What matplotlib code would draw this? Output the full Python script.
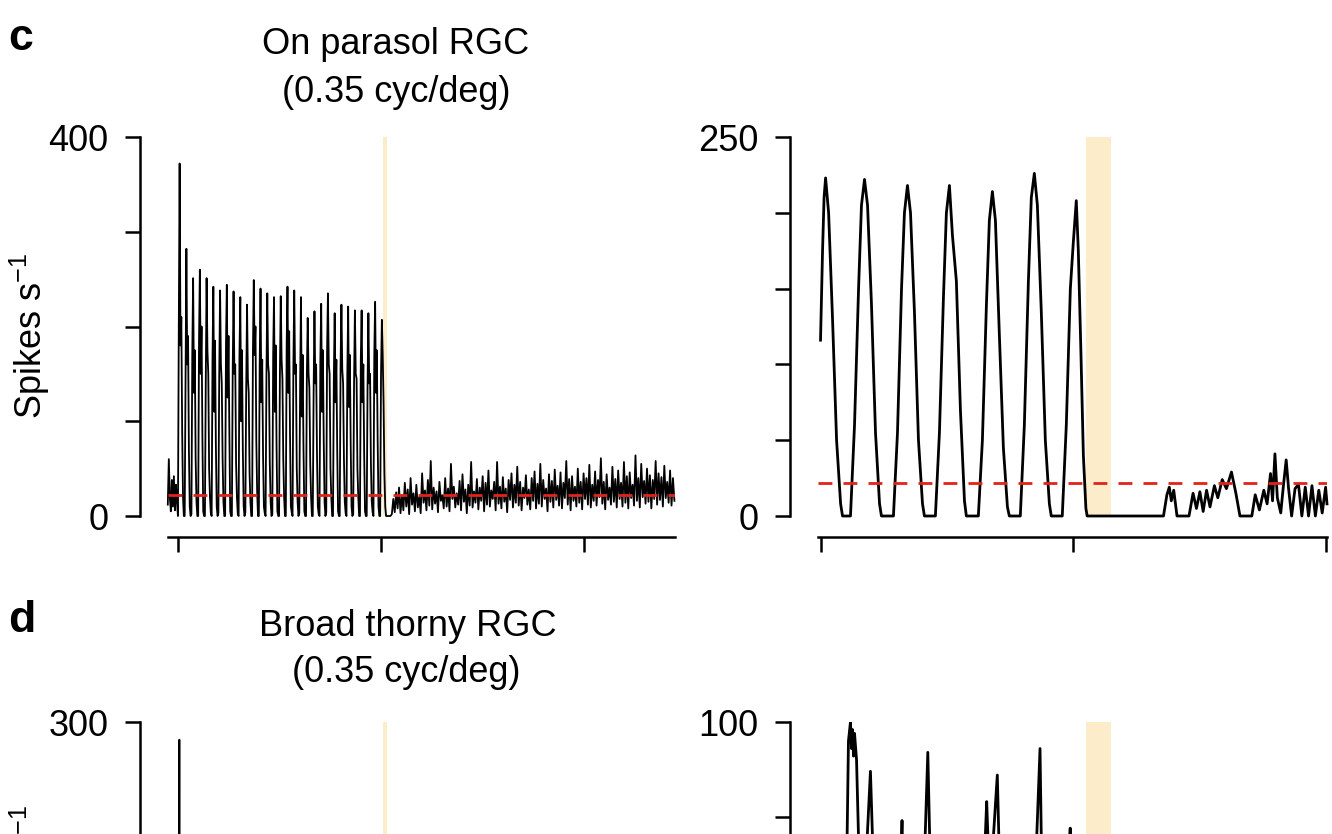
"""
Spike-rate traces: On parasol RGC (c) and broad thorny RGC (d), 0.35 cyc/deg.
Left column = whole trial, right column = zoom around stimulus offset.
The reference is a crop, so panel d runs off the bottom of the figure.
"""

import numpy as np
import matplotlib
matplotlib.use("Agg")
import matplotlib.pyplot as plt

plt.rcParams["font.family"] = ["Liberation Sans", "DejaVu Sans"]
plt.rcParams["mathtext.fontset"] = "custom"
plt.rcParams["mathtext.rm"] = "Liberation Sans"

# ---------------------------------------------------------------------------
# Data (spikes/s)
# ---------------------------------------------------------------------------
baseline_rate = 22.0             # red dashed line
highlight_window = (1.01, 1.03)  # s, pale orange band

# -- panel c, left: whole trial ---------------------------------------------
c_pre_dt = 0.005
c_pre = [12, 60, 20, 5, 38, 10, 42, 6, 33, 15]   # starts at t = -0.05 s

c_cycle_dt = 0.00415            # eight samples per stimulus cycle
c_cycles = [
    [0, 200, 372, 180, 210, 90, 20, 0], [0, 150, 282, 160, 190, 70, 10, 0],
    [2, 170, 251, 130, 175, 60, 15, 0], [0, 185, 260, 150, 200, 85, 5, 0],
    [0, 140, 251, 175, 150, 50, 20, 3], [0, 165, 242, 110, 185, 75, 10, 0],
    [3, 150, 238, 160, 140, 60, 15, 0], [0, 180, 244, 125, 190, 90, 5, 0],
    [0, 155, 237, 150, 160, 55, 20, 2], [0, 170, 231, 100, 175, 70, 10, 0],
    [4, 135, 223, 145, 130, 45, 15, 0], [0, 175, 249, 170, 200, 80, 25, 0],
    [0, 160, 240, 120, 165, 65, 10, 3], [0, 145, 235, 160, 150, 55, 15, 0],
    [2, 170, 231, 110, 180, 75, 5, 0], [0, 150, 232, 165, 145, 60, 20, 0],
    [0, 180, 242, 130, 195, 85, 10, 4], [0, 160, 238, 150, 160, 50, 15, 0],
    [3, 140, 231, 105, 170, 70, 5, 0], [0, 150, 209, 150, 135, 55, 20, 0],
    [0, 130, 216, 140, 160, 65, 10, 2], [0, 165, 224, 110, 175, 80, 15, 0],
    [4, 175, 235, 160, 150, 50, 20, 0], [0, 145, 214, 120, 165, 70, 5, 0],
    [0, 160, 223, 155, 140, 60, 15, 3], [0, 150, 221, 115, 170, 75, 10, 0],
    [2, 140, 217, 150, 145, 50, 20, 0], [0, 165, 217, 120, 160, 65, 5, 0],
    [0, 135, 214, 140, 150, 55, 15, 4], [0, 170, 226, 130, 175, 80, 10, 0],
    [0, 150, 207, 170, 120, 45, 10, 0],
]

c_post_dt = 0.0071
c_post = [
    [0, 0, 0, 2, 18, 4, 25, 8, 30, 3],
    [22, 6, 35, 10, 28, 2, 40, 12, 24, 5],
    [33, 9, 20, 3, 45, 14, 27, 6, 38, 11],
    [58, 7, 30, 13, 26, 4, 36, 16, 22, 8],
    [40, 10, 29, 5, 55, 18, 31, 9, 24, 12],
    [37, 6, 44, 15, 28, 3, 33, 11, 57, 9],
    [26, 14, 39, 7, 30, 16, 42, 5, 35, 12],
    [48, 10, 27, 18, 36, 6, 57, 13, 31, 8],
    [41, 15, 29, 4, 38, 17, 45, 9, 33, 14],
    [52, 11, 36, 6, 30, 19, 43, 12, 28, 7],
    [40, 16, 47, 8, 34, 13, 55, 10, 38, 18],
    [29, 5, 44, 15, 37, 9, 49, 17, 32, 11],
    [46, 8, 35, 19, 58, 12, 39, 6, 42, 16],
    [31, 10, 50, 14, 36, 7, 45, 18, 40, 12],
    [54, 9, 33, 16, 47, 11, 38, 20, 61, 13],
    [36, 7, 44, 17, 30, 12, 52, 15, 39, 9],
    [48, 18, 35, 10, 57, 14, 42, 8, 46, 19],
    [33, 11, 64, 16, 40, 9, 55, 20, 37, 13],
    [50, 15, 43, 8, 38, 18, 58, 12, 45, 17],
    [41, 10, 53, 19, 36, 14, 48, 11, 40, 16],
]

# -- panel c, right: zoom 0.8-1.2 s (breakpoints) -----------------------------
c_zoom_t = [
    0.8000, 0.8016, 0.8028, 0.8040, 0.8064, 0.8095, 0.8127, 0.8159, 0.8174,
    0.8237, 0.8269, 0.8301, 0.8324, 0.8348, 0.8372, 0.8403, 0.8435, 0.8467, 0.8482,
    0.8577, 0.8609, 0.8641, 0.8664, 0.8688, 0.8712, 0.8743, 0.8775, 0.8807, 0.8822,
    0.8909, 0.8941, 0.8973, 0.8996, 0.9020, 0.9044, 0.9075, 0.9107, 0.9139, 0.9154,
    0.9249, 0.9281, 0.9313, 0.9336, 0.9360, 0.9384, 0.9415, 0.9447, 0.9479, 0.9494,
    0.9581, 0.9613, 0.9645, 0.9668, 0.9692, 0.9716, 0.9747, 0.9779, 0.9811, 0.9826,
    0.9913, 0.9945, 0.9977, 1.0000, 1.0024, 1.0040, 1.0060, 1.0080, 1.0100, 1.0110,
    1.0714, 1.0741, 1.0760, 1.0776, 1.0795, 1.0821, 1.0916, 1.0948, 1.0975, 1.1002,
    1.1028, 1.1055, 1.1082, 1.1117, 1.1144, 1.1179, 1.1212, 1.1252, 1.1287, 1.1319,
    1.1413, 1.1440, 1.1473, 1.1508, 1.1534, 1.1561, 1.1577, 1.1596, 1.1615, 1.1642,
    1.1663, 1.1685, 1.1704, 1.1728, 1.1755, 1.1782, 1.1809, 1.1836, 1.1862, 1.1889,
    1.1916, 1.1943, 1.1970, 1.1997, 1.2008,
]
c_zoom_rate = [
    116, 175, 210, 223, 200, 130, 50, 8, 0,
    0, 60, 150, 205, 222, 205, 140, 55, 8, 0,
    0, 55, 150, 200, 218, 200, 135, 50, 8, 0,
    0, 55, 145, 200, 218, 185, 155, 70, 10, 0,
    0, 50, 140, 195, 214, 195, 120, 45, 6, 0,
    0, 60, 155, 210, 226, 205, 135, 50, 8, 0,
    0, 60, 150, 180, 208, 175, 110, 40, 5, 0,
    0, 14, 19, 10, 17, 0, 0, 15, 5, 16,
    3, 17, 6, 20, 12, 24, 18, 29, 15, 0,
    0, 14, 4, 17, 8, 28, 10, 41, 12, 2,
    20, 37, 18, 0, 18, 21, 0, 19, 0, 20,
    0, 17, 2, 19, 8,
]

# -- panel d (mostly below the crop; only the tops of peaks show) -----------
d_full_t = [-0.010, 0.004, 0.007, 0.010, 0.020]
d_full_rate = [60, 120, 286, 100, 40]

d_zoom_t = [
    0.8150, 0.8198, 0.8221, 0.8237, 0.8245, 0.8253, 0.8261, 0.8269, 0.8285,
    0.8308, 0.8340, 0.8370, 0.8395, 0.8420, 0.8445, 0.8600, 0.8645, 0.8670,
    0.8700, 0.8800, 0.8849, 0.8870, 0.8895, 0.9200, 0.9280, 0.9315, 0.9340,
    0.9399, 0.9440, 0.9600, 0.9700, 0.9737, 0.9770, 0.9900, 0.9976, 0.9995,
    1.0030,
]
d_zoom_rate = [
    20, 40, 95, 100, 93, 98, 91, 97, 90,
    60, 50, 70, 87, 60, 20, 30, 74, 30,
    10, 40, 92, 60, 10, 20, 50, 79, 55,
    86, 30, 20, 60, 93, 15, 30, 72, 20,
    10,
]

# ---------------------------------------------------------------------------
# Layout helpers (pixel geometry of the 1332 x 834 reference)
# ---------------------------------------------------------------------------
W, H = 1332, 834
FS = 26
RED = "#e2231a"
ORANGE = "#fdecc9"


def add_axes_px(fig, x0, x1, y_top, y_bottom):
    return fig.add_axes([x0 / W, 1 - y_bottom / H,
                         (x1 - x0) / W, (y_bottom - y_top) / H])


def style_axes(ax, ymax, labelled, unlabelled, xticks, xlim):
    ax.set_xlim(*xlim)
    ax.set_ylim(0, ymax)
    for side in ("top", "right"):
        ax.spines[side].set_visible(False)
    ax.spines["left"].set_position(("outward", 20))
    ax.spines["bottom"].set_position(("outward", 15))
    ax.spines["left"].set_bounds(0, ymax)
    for side in ("left", "bottom"):
        ax.spines[side].set_linewidth(1.8)
    ax.set_yticks(labelled)
    ax.set_yticklabels([str(v) for v in labelled])
    ax.set_yticks(unlabelled, minor=True)
    ax.set_xticks(xticks)
    ax.set_xticklabels([])
    ax.tick_params(which="both", direction="out", length=10.8, width=1.8,
                   labelsize=FS, pad=12)
    ax.patch.set_alpha(0)


fig = plt.figure(figsize=(W / 100, H / 100), dpi=100)

LEFT_X = (168, 675)
RIGHT_X = (818, 1327)
LEFT_XLIM = (-0.049, 2.448)
RIGHT_XLIM = (0.798, 1.2008)

# ---------------------------------------------------------------------------
# Panel c
# ---------------------------------------------------------------------------
c_pre_t = -0.05 + c_pre_dt * np.arange(len(c_pre))
c_stim = np.ravel(c_cycles)
c_stim_t = c_cycle_dt * np.arange(len(c_stim))
c_post_v = np.ravel(c_post)
c_post_t = c_stim_t[-1] + c_post_dt * np.arange(1, len(c_post_v) + 1)
c_t = np.concatenate([c_pre_t, c_stim_t, c_post_t])
c_rate = np.concatenate([c_pre, c_stim, c_post_v])

ax = add_axes_px(fig, *LEFT_X, 137, 516)
ax.axvspan(*highlight_window, color=ORANGE, lw=0, zorder=0)
ax.plot(c_t, c_rate, color="black", lw=1.3, clip_on=False, zorder=2)
ax.axhline(baseline_rate, color=RED, lw=2.0, dashes=(5, 4), zorder=3)
style_axes(ax, 400, [0, 400], [100, 200, 300], [0, 1, 2], LEFT_XLIM)

ax = add_axes_px(fig, *RIGHT_X, 137, 516)
ax.axvspan(*highlight_window, color=ORANGE, lw=0, zorder=0)
ax.plot(c_zoom_t, c_zoom_rate, color="black", lw=2.0, clip_on=False,
        zorder=2, solid_joinstyle="round")
ax.axhline(baseline_rate, color=RED, lw=2.0, dashes=(5, 4), zorder=3)
style_axes(ax, 250, [0, 250], [50, 100, 150, 200], [0.8, 1.0, 1.2],
           RIGHT_XLIM)

# ---------------------------------------------------------------------------
# Panel d (cut by the bottom edge of the figure)
# ---------------------------------------------------------------------------
ax = add_axes_px(fig, *LEFT_X, 722, 1101)
ax.axvspan(*highlight_window, color=ORANGE, lw=0, zorder=0)
ax.plot(d_full_t, d_full_rate, color="black", lw=1.3, zorder=2)
style_axes(ax, 300, [300], [0, 100, 200], [0, 1, 2], LEFT_XLIM)

ax = add_axes_px(fig, *RIGHT_X, 722, 1101)
ax.axvspan(*highlight_window, color=ORANGE, lw=0, zorder=0)
ax.plot(d_zoom_t, d_zoom_rate, color="black", lw=2.0, zorder=2,
        solid_joinstyle="round")
style_axes(ax, 100, [100], [0, 25, 50, 75], [0.8, 1.0, 1.2], RIGHT_XLIM)

# ---------------------------------------------------------------------------
# Text
# ---------------------------------------------------------------------------
fig.text(8 / W, 1 - 50 / H, "c", fontsize=32, fontweight="bold",
         ha="left", va="baseline")
fig.text(8 / W, 1 - 632 / H, "d", fontsize=32, fontweight="bold",
         ha="left", va="baseline")

fig.text(396 / W, 1 - 45 / H, "On parasol RGC", fontsize=FS,
         ha="center", va="center")
fig.text(396 / W, 1 - 93 / H, "(0.35 cyc/deg)", fontsize=FS,
         ha="center", va="center")
fig.text(408 / W, 1 - 627 / H, "Broad thorny RGC", fontsize=FS,
         ha="center", va="center")
fig.text(406 / W, 1 - 673 / H, "(0.35 cyc/deg)", fontsize=FS,
         ha="center", va="center")

# y labels; the lower one is cut by the figure edge, as in the reference
ylab = r"Spikes s$^{\mathregular{-1}}$"
fig.text(30 / W, 1 - 336 / H, ylab, fontsize=FS, rotation=90,
         ha="center", va="center")
fig.text(30 / W, 1 - 888 / H, ylab, fontsize=FS, rotation=90,
         ha="center", va="center")

fig.savefig("out.png", dpi=100)
